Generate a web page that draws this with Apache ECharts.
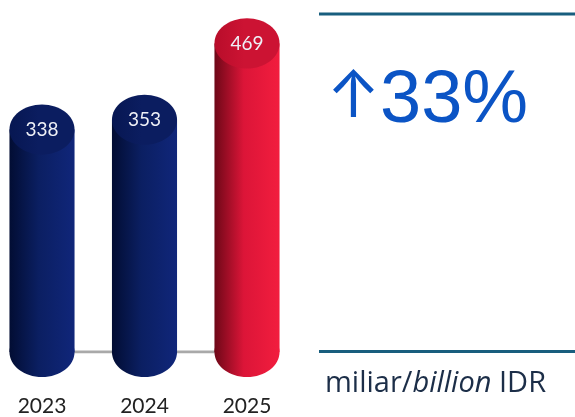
<!DOCTYPE html>
<html><head><meta charset="utf-8">
<script src="https://cdn.jsdelivr.net/npm/echarts@6/dist/echarts.min.js"></script>
<style>html,body{margin:0;padding:0;background:#fff}#c{width:575px;height:417px}</style>
</head><body><div id="c"></div>
<script>
const categories = ['2023', '2024', '2025'];
const values = [338, 353, 469];
const arrowText = '↑';
const growthText = '33%';
const unitMain = 'miliar/';
const unitItalic = 'billion';
const unitTail = ' IDR';

const palettes = [
  {body:['#020d33','#0b1f62','#10267a'], cap:['#071752','#0b1d60']},
  {body:['#020d33','#0b1f62','#10267a'], cap:['#071752','#0b1d60']},
  {body:['#6e0818','#dc1538','#f21d3e'], cap:['#b80d2a','#cc1333']}
];
function grad(c){
  return {type:'linear',x:0,y:0,x2:1,y2:0,colorStops:[
    {offset:0,color:c[0]},{offset:0.45,color:c[1]},{offset:1,color:c[2] || c[1]}]};
}
function renderItem(params, api){
  const p = api.coord([api.value(0), api.value(1)]);
  const base = api.coord([api.value(0), 0])[1];
  const w = api.size([1,0])[0]*0.635;
  const rx = w/2, ry = w*0.385;
  const pal = palettes[params.dataIndex];
  return {type:'group', children:[
    {type:'ellipse', shape:{cx:p[0], cy:base, rx:rx, ry:ry}, style:{fill:grad(pal.body)}},
    {type:'rect', shape:{x:p[0]-rx, y:p[1], width:w, height:base-p[1]}, style:{fill:grad(pal.body)}},
    {type:'ellipse', shape:{cx:p[0], cy:p[1], rx:rx, ry:ry}, style:{fill:grad(pal.cap)}},
    {type:'text', style:{text:String(api.value(1)), x:p[0], y:p[1], align:'center', verticalAlign:'middle',
      fill:'#eef0f6', font:'19px Lato'}}
  ]};
}

const chart = echarts.init(document.getElementById('c'), null, {renderer:'canvas'});
chart.setOption({
  animation:false,
  grid:{left:42, width:205, top:23, height:329},
  xAxis:{type:'category', data:categories, boundaryGap:false,
    axisLine:{show:false}, axisTick:{show:false},
    axisLabel:{margin:44, fontSize:21, fontFamily:'Lato', color:'#222'}},
  yAxis:{type:'value', min:0, max:500, show:false, splitLine:{show:false}},
  series:[
    {type:'line', data:categories.map(()=>0), symbol:'none', z:1,
      lineStyle:{color:'#a9a9a9', width:3}},
    {type:'custom', renderItem:renderItem, z:2,
      data:categories.map((c,i)=>[i, values[i]])}
  ],
  graphic:[
    {type:'rect', shape:{x:319, y:12.5, width:256, height:3}, style:{fill:'#185e7e'}},
    {type:'rect', shape:{x:319, y:350, width:256, height:3}, style:{fill:'#185e7e'}},
    {type:'text', x:353.5, y:98, style:{text:arrowText, align:'center', verticalAlign:'middle',
      font:'400 64px Inter', fill:'#0b54c5'}},
    {type:'text', x:380, y:102, style:{text:growthText, align:'left', verticalAlign:'middle',
      font:'74px "Liberation Sans"', fill:'#0b54c5'}},
    {type:'text', x:325, y:384, style:{
      text:'{n|'+unitMain+'}{i|'+unitItalic+'}{n|'+unitTail+'}', verticalAlign:'middle',
      rich:{n:{fontSize:29, fontFamily:'Open Sans', fill:'#1c2e48'},
            i:{fontSize:29, fontFamily:'Open Sans', fontStyle:'italic', fill:'#1c2e48'}}}}
  ]
});
</script></body></html>
